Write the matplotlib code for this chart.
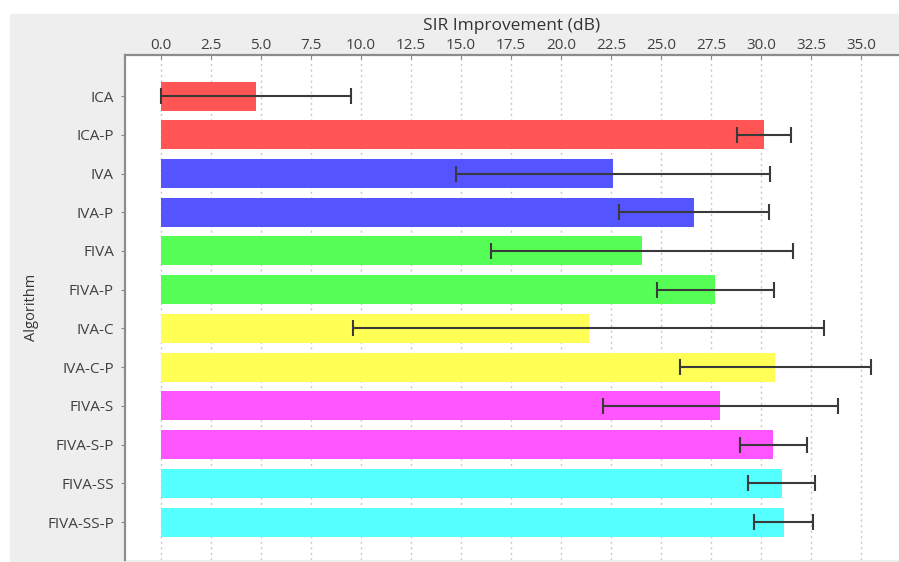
import numpy as np
import matplotlib
matplotlib.use("Agg")
import matplotlib.pyplot as plt
from matplotlib.patches import Rectangle

# mean SIR improvement per algorithm, with the spread shown as error bars
algorithms = ["ICA", "ICA-P", "IVA", "IVA-P", "FIVA", "FIVA-P", "IVA-C",
              "IVA-C-P", "FIVA-S", "FIVA-S-P", "FIVA-SS", "FIVA-SS-P"]
sir_mean = [4.75, 30.15, 22.6, 26.65, 24.05, 27.7, 21.4,
            30.7, 27.95, 30.6, 31.05, 31.15]
sir_low = [0.0, 28.8, 14.75, 22.9, 16.5, 24.8, 9.6,
           25.95, 22.1, 28.95, 29.35, 29.65]
sir_high = [9.5, 31.5, 30.45, 30.4, 31.6, 30.65, 33.15,
            35.5, 33.85, 32.3, 32.7, 32.6]
colors = ["#ff5555", "#ff5555", "#5555ff", "#5555ff", "#55ff55", "#55ff55",
          "#ffff55", "#ffff55", "#ff55ff", "#ff55ff", "#55ffff", "#55ffff"]
xticks = np.arange(0, 35.1, 2.5)

plt.rcParams['font.family'] = ['Open Sans', 'DejaVu Sans']

fig = plt.figure(figsize=(8.99, 5.62), dpi=100)
# grey chart panel behind the plot area
fig.patches.append(Rectangle((10 / 899, 0), 1, 1 - 14 / 562,
                             transform=fig.transFigure, color="#eeeeee", zorder=-10))

ax = fig.add_axes([125 / 899, 2 / 562, 1 - 125 / 899, (560 - 55) / 562])
ax.set_facecolor("white")

y = np.arange(len(algorithms))
mean = np.array(sir_mean)
err = [mean - np.array(sir_low), np.array(sir_high) - mean]

ax.barh(y, mean, height=0.75, color=colors, zorder=2)
ax.errorbar(mean, y, xerr=err, fmt="none", ecolor="#3a3a3a", elinewidth=1.5,
            capsize=6, capthick=1.5, zorder=3)

ax.set_xlim(-1.8, 36.9)
ax.set_ylim(len(algorithms) - 0.02, -1.06)
ax.set_yticks(y)
ax.set_yticklabels(algorithms)
ax.set_xticks(xticks)
ax.set_xticklabels([f"{t:.1f}" for t in xticks])

ax.xaxis.tick_top()
ax.xaxis.set_label_position("top")
ax.set_xlabel("SIR Improvement (dB)", fontsize=12.5, color="#333333", labelpad=6)
ax.set_ylabel("Algorithm", fontsize=10.5, color="#333333", labelpad=6)

ax.tick_params(axis="x", direction="in", length=3, color="#888888",
               labelsize=11, labelcolor="#404040", pad=1.5)
ax.tick_params(axis="y", direction="out", length=3, color="#888888",
               labelsize=11, labelcolor="#404040", pad=5)

ax.grid(axis="x", linestyle=(0, (1.5, 2.5)), color="#c8c8c8", linewidth=1.0, zorder=0)

for side in ["right", "bottom"]:
    ax.spines[side].set_visible(False)
for side in ["left", "top"]:
    ax.spines[side].set_color("#8c8c8c")
    ax.spines[side].set_linewidth(1.6)

fig.savefig("out.png", dpi=100)
